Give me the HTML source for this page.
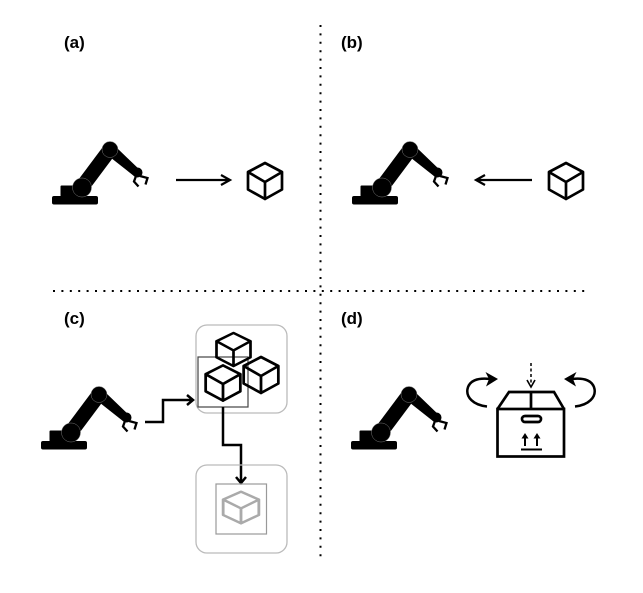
<!DOCTYPE html>
<html><head><meta charset="utf-8"><style>
html,body{margin:0;padding:0;background:#fff;}
svg{display:block;}
text{font-family:"Liberation Sans",Arial,sans-serif;font-weight:bold;font-size:17px;fill:#000;}
</style></head><body>
<svg width="643" height="593" viewBox="0 0 643 593" xmlns="http://www.w3.org/2000/svg">
<defs>
<g id="robot">
  <rect x="52" y="196" width="46" height="8.5" rx="2" fill="#000"/>
  <rect x="60.5" y="185.5" width="21" height="11" rx="1" fill="#000"/>
  <line x1="82" y1="187" x2="110" y2="149.5" stroke="#000" stroke-width="14.5"/>
  <polygon points="106.2,154.1 113.8,144.9 140.3,170.4 134.7,176.6" fill="#000"/>
  <circle cx="82" cy="187.5" r="9.5" fill="#000" stroke="#777" stroke-width="0.5"/>
  <circle cx="110" cy="149.5" r="8" fill="#000" stroke="#777" stroke-width="0.5"/>
  <circle cx="137.5" cy="172.5" r="5" fill="#000"/>
  <path d="M136,176 L134,181.5 L138.5,186.5 M140,176 L147.5,178 L145.5,184.5" fill="none" stroke="#000" stroke-width="2.3" stroke-linejoin="miter"/>
</g>
<g id="cube">
  <path d="M0,-18 L17,-9 L17,8.5 L0,18 L-17,8.5 L-17,-9 Z M-17,-9 L0,1 L17,-9 M0,1 L0,18" fill="none" stroke-width="2.7" stroke-linejoin="round" stroke-linecap="round"/>
</g>
</defs>

<!-- dotted dividers -->
<line x1="320.5" y1="25" x2="320.5" y2="562" stroke="#000" stroke-width="2" stroke-dasharray="2 6.4"/>
<line x1="53" y1="291" x2="588" y2="291" stroke="#000" stroke-width="2" stroke-dasharray="2 6.4"/>

<!-- labels -->
<text x="64" y="48">(a)</text>
<text x="341" y="48">(b)</text>
<text x="64" y="324">(c)</text>
<text x="341" y="324">(d)</text>

<!-- (a) -->
<use href="#robot"/>
<path d="M176,180 H230 M221,175 L230,180 L221,185" fill="none" stroke="#000" stroke-width="2.2"/>
<use href="#cube" transform="translate(265,181)" stroke="#000"/>

<!-- (b) -->
<use href="#robot" transform="translate(300,0)"/>
<path d="M532,180 H476 M485,175 L476,180 L485,185" fill="none" stroke="#000" stroke-width="2.2"/>
<use href="#cube" transform="translate(566,181)" stroke="#000"/>

<!-- (c) -->
<use href="#robot" transform="translate(-11,245)"/>
<rect x="196" y="325" width="91" height="88" rx="11" fill="none" stroke="#bbb" stroke-width="1.3"/>
<rect x="198" y="357" width="50" height="50" fill="none" stroke="#444" stroke-width="1.2"/>
<use href="#cube" transform="translate(233.5,349.5) scale(1,0.92)" stroke="#000"/>
<use href="#cube" transform="translate(223,383) scale(1.02,0.98)" stroke="#000"/>
<use href="#cube" transform="translate(261,375) scale(1.02,1)" stroke="#000"/>
<path d="M145,422 H163 V400 H193 M187,395 L193,400 L187,405" fill="none" stroke="#000" stroke-width="2.5"/>
<path d="M223,407 V445 H241 V483 M236,477 L241,483 L246,477" fill="none" stroke="#000" stroke-width="2.5"/>
<rect x="196" y="465" width="91" height="88" rx="11" fill="none" stroke="#bbb" stroke-width="1.3"/>
<rect x="216" y="484" width="50.5" height="50" fill="none" stroke="#999" stroke-width="1.2"/>
<use href="#cube" transform="translate(241,507.5) scale(1.05,0.88)" stroke="#aaa"/>

<!-- (d) -->
<use href="#robot" transform="translate(299,245)"/>
<g fill="none" stroke="#000" stroke-width="2.7" stroke-linejoin="miter">
  <rect x="497.5" y="409" width="66.5" height="47.5"/>
  <path d="M497.5,409 L509,392 L554,392 L564,409"/>
  <line x1="531" y1="392" x2="531" y2="409"/>
  <rect x="522" y="416" width="19" height="6" rx="3"/>
  <line x1="521" y1="449.5" x2="542" y2="449.5" stroke-width="2"/>
  <line x1="525" y1="437" x2="525" y2="446" stroke-width="2"/>
  <line x1="537" y1="437" x2="537" y2="446" stroke-width="2"/>
</g>
<polygon points="525,433 521.5,438.5 528.5,438.5" fill="#000"/>
<polygon points="537,433 533.5,438.5 540.5,438.5" fill="#000"/>
<line x1="531" y1="363" x2="531" y2="384" stroke="#000" stroke-width="1.5" stroke-dasharray="3 2.5"/>
<path d="M527,380 L531,387 L535,380" fill="none" stroke="#000" stroke-width="1.6"/>
<!-- curved arrows -->
<path d="M487,406.5 C473,405 466,397 467.5,389 C469,381 477,377.5 490,379" fill="none" stroke="#000" stroke-width="2.5"/>
<polygon points="498,379 485.5,372 489,379 486,386.5" fill="#000"/>
<path d="M575,406.5 C589,405 596,397 594.5,389 C593,381 585,377.5 572,379" fill="none" stroke="#000" stroke-width="2.5"/>
<polygon points="564,379 576.5,372 573,379 576,386.5" fill="#000"/>
</svg>
</body></html>
